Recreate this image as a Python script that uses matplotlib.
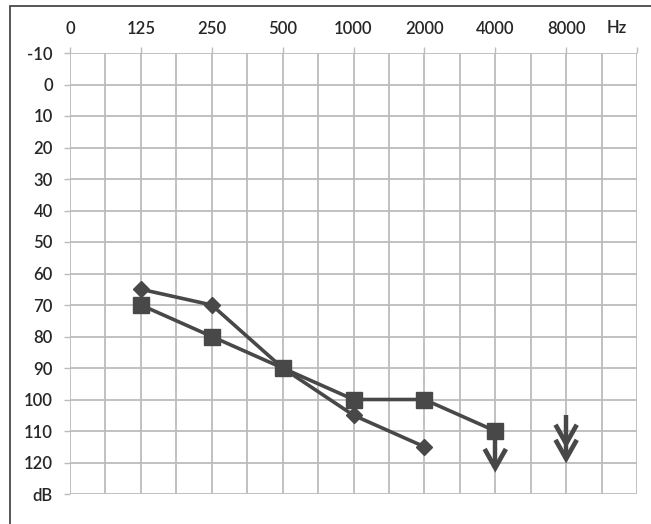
import numpy as np
import matplotlib
matplotlib.use('Agg')
import matplotlib.pyplot as plt
from matplotlib.patches import Rectangle

# audiogram data
freq_labels = ['0', '125', '250', '500', '1000', '2000', '4000', '8000']
db_labels = ['-10', '0', '10', '20', '30', '40', '50', '60', '70', '80', '90',
             '100', '110', '120', 'dB']
db_values = list(range(-10, 140, 10))

diamond_x = [1, 2, 3, 4, 5]
diamond_db = [65, 70, 90, 105, 115]
square_x = [1, 2, 3, 4, 5, 6]
square_db = [70, 80, 90, 100, 100, 110]

# "no response" arrows: x, line top, line bottom (tip), chevron tips
arrow_x = [6, 7]
arrow_top = [110, 105]
arrow_tip = [121.7, 118.8]
arrow_chevrons = [[121.7], [114.0, 118.8]]

DARK = '#484848'
GRID = '#bcbcbc'
TEXT = '#262626'

plt.rcParams['font.family'] = ['Lato', 'DejaVu Sans']

fig = plt.figure(figsize=(6.51, 5.24), dpi=100)
fig.patches.append(Rectangle((10 / 651, -0.1), 1.2, (1 - 6 / 524) + 0.1,
                             transform=fig.transFigure, fill=False,
                             edgecolor='#3a3a3a', linewidth=1.2))

ax = fig.add_axes([70 / 651, 1 - 494 / 524, 567 / 651, 441 / 524])
ax.set_xlim(0, 8)
ax.set_ylim(130, -10)

# grid
for gx in np.arange(0, 8.01, 0.5):
    ax.axvline(gx, color=GRID, lw=1.3, zorder=1)
for gy in db_values:
    ax.axhline(gy, color=GRID, lw=1.3, zorder=1)

for s in ax.spines.values():
    s.set_visible(False)

ax.xaxis.tick_top()
ax.set_xticks(range(0, 9))
ax.set_xticklabels(freq_labels + [''])
ax.set_yticks(db_values)
ax.set_yticklabels(db_labels)
ax.tick_params(axis='x', length=4.3, width=1.0, color=GRID, pad=7,
               labelsize=12, labelcolor=TEXT)
ax.tick_params(axis='y', length=4.3, width=1.0, color=GRID, pad=8,
               labelsize=12, labelcolor=TEXT)
for lab in ax.get_xticklabels() + ax.get_yticklabels():
    lab.set_fontweight('semibold')
ax.text(7.72, 1.0 + 17 / 441, 'Hz', transform=ax.get_xaxis_transform(),
        ha='center', va='bottom', fontsize=12, color=TEXT,
        fontweight='semibold')

# series
ax.plot(diamond_x, diamond_db, color=DARK, lw=2.6, marker='D', ms=8,
        mfc=DARK, mec=DARK, zorder=3)
ax.plot(square_x, square_db, color=DARK, lw=2.6, marker='s', ms=11.5,
        mfc=DARK, mec=DARK, zorder=4)

# arrows
arm_dx = 0.15
arm_dy = 6
for x, top, tip, chevs in zip(arrow_x, arrow_top, arrow_tip, arrow_chevrons):
    ax.plot([x, x], [top, tip], color=DARK, lw=3.2, zorder=3,
            solid_capstyle='butt')
    for c in chevs:
        ax.plot([x - arm_dx, x, x + arm_dx], [c - arm_dy, c, c - arm_dy],
                color=DARK, lw=3.4, zorder=3, solid_joinstyle='miter',
                solid_capstyle='butt')

fig.savefig('out.png', dpi=100)
